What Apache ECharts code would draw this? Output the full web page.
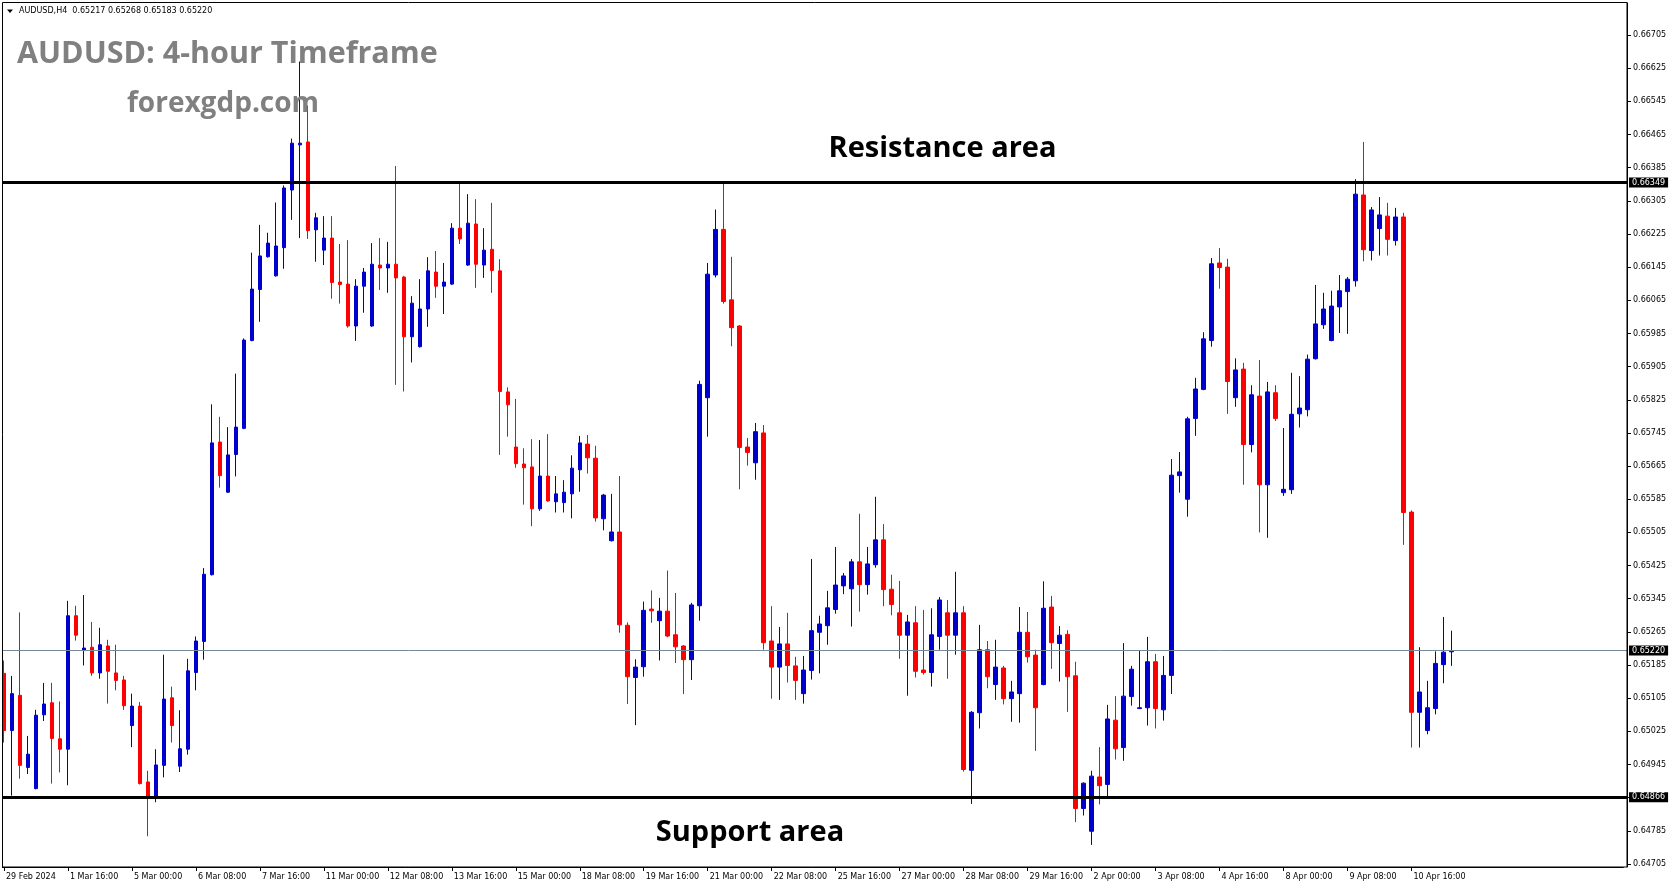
<!DOCTYPE html>
<html><head><meta charset="utf-8">
<script src="https://cdn.jsdelivr.net/npm/echarts@6/dist/echarts.min.js"></script>
<style>html,body{margin:0;padding:0;background:#fff;}#c{width:1673px;height:888px;}</style>
</head><body><div id="c"></div>
<script>
const tickLabels = ['29 Feb 2024','1 Mar 16:00','5 Mar 00:00','6 Mar 08:00','7 Mar 16:00','11 Mar 00:00','12 Mar 08:00','13 Mar 16:00','15 Mar 00:00','18 Mar 08:00','19 Mar 16:00','21 Mar 00:00','22 Mar 08:00','25 Mar 16:00','27 Mar 00:00','28 Mar 08:00','29 Mar 16:00','2 Apr 00:00','3 Apr 08:00','4 Apr 16:00','8 Apr 00:00','9 Apr 08:00','10 Apr 16:00'];
const yTicks = [0.66705,0.66625,0.66545,0.66465,0.66385,0.66305,0.66225,0.66145,0.66065,0.65985,0.65905,0.65825,0.65745,0.65665,0.65585,0.65505,0.65425,0.65345,0.65265,0.65185,0.65105,0.65025,0.64945,0.64865,0.64785,0.64705];
const opens = [0.65165,0.65027,0.65112,0.64938,0.64887,0.65065,0.65094,0.65007,0.64982,0.65304,
0.65220,0.65228,0.65166,0.65231,0.65166,0.65149,0.65039,0.65086,0.64903,0.64864,
0.64943,0.65106,0.64941,0.64982,0.65167,0.65242,0.65403,0.65723,0.65602,0.65693,
0.65756,0.65968,0.66091,0.66170,0.66124,0.66192,0.66331,0.66440,0.66447,0.66235,
0.66186,0.66215,0.66109,0.66104,0.66003,0.66099,0.66003,0.66150,0.66143,0.66152,
0.66121,0.65977,0.65953,0.66044,0.66133,0.66099,0.66104,0.66239,0.66150,0.66249,
0.66150,0.66188,0.66136,0.65844,0.65711,0.65670,0.65663,0.65562,0.65641,0.65579,
0.65577,0.65598,0.65656,0.65718,0.65684,0.65538,0.65485,0.65506,0.65281,0.65155,
0.65181,0.65320,0.65292,0.65315,0.65258,0.65231,0.65198,0.65328,0.65830,0.66126,
0.66236,0.66066,0.66003,0.65711,0.65673,0.65745,0.65243,0.65180,0.65236,0.65183,
0.65116,0.65172,0.65264,0.65280,0.65319,0.65376,0.65369,0.65434,0.65379,0.65427,
0.65487,0.65368,0.65311,0.65257,0.65287,0.65173,0.65167,0.65254,0.65311,0.65257,
0.65311,0.64931,0.65070,0.65222,0.65138,0.65178,0.65104,0.65116,0.65264,0.65209,
0.65138,0.65325,0.65237,0.65259,0.65159,0.64839,0.64784,0.64915,0.64897,0.65052,
0.64986,0.65109,0.65080,0.65082,0.65193,0.65077,0.65160,0.65642,0.65585,0.65780,
0.65850,0.65968,0.66155,0.66145,0.65830,0.65899,0.65717,0.65834,0.65620,0.65842,
0.65601,0.65608,0.65791,0.65801,0.65924,0.66006,0.65968,0.66049,0.66086,0.66112,
0.66319,0.66185,0.66238,0.66268,0.66209,0.66266,0.65554,0.65071,0.65027,0.65080,
0.65186,0.65217];
const highs = [0.65196,0.65159,0.65312,0.65014,0.65077,0.65142,0.65142,0.65097,0.65340,0.65328,
0.65354,0.65289,0.65275,0.65246,0.65234,0.65159,0.65116,0.65096,0.64930,0.64982,
0.65210,0.65133,0.65076,0.65200,0.65254,0.65419,0.65814,0.65784,0.65759,0.65888,
0.65973,0.66180,0.66247,0.66228,0.66301,0.66342,0.66455,0.66641,0.66535,0.66276,
0.66268,0.66268,0.66201,0.66210,0.66116,0.66143,0.66203,0.66215,0.66206,0.66389,
0.66124,0.66075,0.66116,0.66169,0.66184,0.66155,0.66251,0.66347,0.66321,0.66309,
0.66239,0.66300,0.66164,0.65855,0.65827,0.65708,0.65730,0.65728,0.65742,0.65641,
0.65631,0.65691,0.65738,0.65740,0.65714,0.65598,0.65598,0.65641,0.65288,0.65199,
0.65338,0.65365,0.65347,0.65413,0.65359,0.65233,0.65335,0.65871,0.66155,0.66284,
0.66350,0.66170,0.66005,0.65733,0.65769,0.65764,0.65327,0.65277,0.65311,0.65205,
0.65207,0.65441,0.65304,0.65364,0.65470,0.65407,0.65441,0.65550,0.65470,0.65591,
0.65525,0.65403,0.65388,0.65306,0.65327,0.65318,0.65322,0.65349,0.65342,0.65410,
0.65327,0.65074,0.65282,0.65243,0.65246,0.65183,0.65147,0.65325,0.65313,0.65222,
0.65387,0.65352,0.65279,0.65269,0.65193,0.64902,0.64930,0.64987,0.65089,0.65110,
0.65238,0.65183,0.65219,0.65253,0.65212,0.65207,0.65682,0.65699,0.65784,0.65878,
0.65988,0.66167,0.66191,0.66165,0.65925,0.65914,0.65860,0.65921,0.65868,0.65860,
0.65757,0.65890,0.65882,0.65934,0.66102,0.66083,0.66088,0.66126,0.66121,0.66357,
0.66447,0.66290,0.66314,0.66300,0.66288,0.66276,0.65558,0.65228,0.65147,0.65218,
0.65301,0.65268];
const lows = [0.64998,0.64870,0.64911,0.64922,0.64885,0.65050,0.64899,0.64926,0.64895,0.65244,
0.65184,0.65159,0.65152,0.65092,0.65124,0.65077,0.64987,0.64897,0.64772,0.64854,
0.64914,0.64998,0.64927,0.64969,0.65124,0.65198,0.65401,0.65613,0.65600,0.65640,
0.65754,0.65966,0.66013,0.66168,0.66122,0.66141,0.66259,0.66215,0.66213,0.66158,
0.66150,0.66069,0.66057,0.65999,0.65967,0.66035,0.66001,0.66090,0.66083,0.65861,
0.65845,0.65915,0.65951,0.66001,0.66071,0.66032,0.66102,0.66201,0.66148,0.66095,
0.66119,0.66083,0.65692,0.65736,0.65661,0.65572,0.65520,0.65557,0.65579,0.65553,
0.65553,0.65539,0.65603,0.65647,0.65531,0.65510,0.65483,0.65263,0.65091,0.65040,
0.65157,0.65287,0.65196,0.65252,0.65190,0.65115,0.65149,0.65292,0.65736,0.66120,
0.66057,0.65954,0.65609,0.65666,0.65632,0.65222,0.65104,0.65101,0.65143,0.65101,
0.65092,0.65150,0.65165,0.65234,0.65309,0.65356,0.65278,0.65314,0.65355,0.65420,
0.65327,0.65305,0.65200,0.65111,0.65155,0.65162,0.65133,0.65222,0.65152,0.65210,
0.64928,0.64850,0.65032,0.65129,0.65101,0.65090,0.65048,0.65046,0.65191,0.64978,
0.65136,0.65176,0.65145,0.65072,0.64806,0.64822,0.64751,0.64849,0.64863,0.64957,
0.64954,0.65087,0.65079,0.65039,0.65032,0.65051,0.65115,0.65601,0.65543,0.65738,
0.65848,0.65953,0.66093,0.65791,0.65808,0.65620,0.65698,0.65505,0.65492,0.65774,
0.65593,0.65598,0.65758,0.65785,0.65922,0.65996,0.65966,0.65986,0.65984,0.66098,
0.66159,0.66161,0.66173,0.66173,0.66197,0.65475,0.64986,0.64986,0.65018,0.65066,
0.65141,0.65183];
const closes = [0.65027,0.65116,0.64943,0.64970,0.65064,0.65091,0.65008,0.64982,0.65304,0.65257,
0.65226,0.65166,0.65234,0.65170,0.65148,0.65087,0.65086,0.64899,0.64864,0.64944,
0.65103,0.65039,0.64983,0.65171,0.65243,0.65404,0.65721,0.65642,0.65692,0.65759,
0.65969,0.66092,0.66172,0.66203,0.66196,0.66336,0.66444,0.66444,0.66233,0.66264,
0.66215,0.66108,0.66103,0.66003,0.66099,0.66133,0.66152,0.66143,0.66152,0.66119,
0.65977,0.66058,0.66044,0.66136,0.66099,0.66109,0.66239,0.66213,0.66251,0.66152,
0.66186,0.66137,0.65845,0.65813,0.65671,0.65661,0.65562,0.65641,0.65581,0.65598,
0.65602,0.65660,0.65721,0.65685,0.65540,0.65595,0.65506,0.65282,0.65157,0.65180,
0.65317,0.65316,0.65315,0.65255,0.65229,0.65198,0.65330,0.65862,0.66128,0.66236,
0.66062,0.65999,0.65710,0.65698,0.65748,0.65239,0.65180,0.65236,0.65184,0.65148,
0.65173,0.65268,0.65284,0.65323,0.65378,0.65400,0.65434,0.65379,0.65429,0.65487,
0.65367,0.65331,0.65257,0.65289,0.65170,0.65167,0.65258,0.65342,0.65257,0.65311,
0.64933,0.65071,0.65222,0.65157,0.65180,0.65104,0.65120,0.65264,0.65205,0.65082,
0.65322,0.65239,0.65257,0.65157,0.64839,0.64900,0.64917,0.64894,0.65055,0.64983,
0.65110,0.65175,0.65082,0.65193,0.65080,0.65160,0.65643,0.65651,0.65779,0.65851,
0.65972,0.66153,0.66144,0.65869,0.65897,0.65717,0.65837,0.65620,0.65844,0.65780,
0.65609,0.65790,0.65805,0.65923,0.66008,0.66044,0.66051,0.66088,0.66116,0.66321,
0.66187,0.66283,0.66271,0.66212,0.66266,0.65553,0.65071,0.65120,0.65082,0.65189,
0.65216,0.65220];
const resistance = 0.66349;
const support = 0.64866;
const lastPrice = 0.65220;
const headerText = 'AUDUSD,H4  0.65217 0.65268 0.65183 0.65220';
const titleText = 'AUDUSD: 4-hour Timeframe';
const siteText = 'forexgdp.com';
const resText = 'Resistance area';
const supText = 'Support area';

const totalSlots = 203;
const categories = [];
for (let i = 0; i < totalSlots; i++) {
  categories.push(i % 8 === 0 && i / 8 < tickLabels.length ? tickLabels[i / 8] : '');
}
const ohlc = opens.map((o, i) => [o, closes[i], lows[i], highs[i]]);
const showTick = (i) => i % 8 === 0 && i / 8 < tickLabels.length;

function lvl(v, color, width) {
  return [
    {x: 2, yAxis: v, lineStyle: {color: color, width: width, type: 'solid'},
     label: {show: true, position: 'end', formatter: v.toFixed(5), color: '#fff', backgroundColor: '#000',
             padding: [1, 3, 0, 3], fontSize: 8, fontFamily: 'DejaVu Sans', distance: 2, lineHeight: 9}},
    {x: 1627, yAxis: v}
  ];
}

const chart = echarts.init(document.getElementById('c'), null, {renderer: 'canvas'});
chart.setOption({
  animation: false,
  backgroundColor: '#fff',
  grid: {left: -0.7, right: 49.7, top: 3, bottom: 21, containLabel: false},
  xAxis: {
    type: 'category', data: categories, boundaryGap: true,
    axisLine: {show: true, lineStyle: {color: '#000', width: 1}},
    axisTick: {show: true, interval: showTick, alignWithLabel: true, length: 4, lineStyle: {color: '#000'}},
    axisLabel: {interval: showTick, align: 'left', padding: [0, 0, 0, 2], fontSize: 8, fontFamily: 'DejaVu Sans', color: '#000', margin: 6},
    splitLine: {show: false}
  },
  yAxis: {
    type: 'value', position: 'right', min: 0.646978, max: 0.667822, scale: true, offset: 3.7,
    axisLine: {show: true, lineStyle: {color: '#000', width: 1}},
    axisTick: {show: true, length: 4, customValues: yTicks, lineStyle: {color: '#000'}},
    axisLabel: {customValues: yTicks, formatter: (v) => v.toFixed(5), fontSize: 8, fontFamily: 'DejaVu Sans', color: '#000', margin: 6},
    splitLine: {show: false}
  },
  series: [{
    type: 'candlestick', data: ohlc, barWidth: 4,
    itemStyle: {color: '#0000CD', color0: '#FF0000', borderColor: '#0000CD', borderColor0: '#FF0000', borderWidth: 1},
    markLine: {
      symbol: 'none', silent: true, animation: false,
      data: [lvl(lastPrice, '#778899', 1), lvl(resistance, '#000', 3), lvl(support, '#000', 3)]
    }
  }],
  graphic: [
    {type: 'rect', silent: true, z: 100, shape: {x: 0, y: 0, width: 2, height: 888}, style: {fill: '#fff'}},
    {type: 'rect', silent: true, z: 101, shape: {x: 2.5, y: 2.5, width: 1624.5, height: 864.5}, style: {fill: 'none', stroke: '#000', lineWidth: 1}},
    {type: 'polygon', silent: true, z: 102, shape: {points: [[7, 9.5], [13, 9.5], [10, 13]]}, style: {fill: '#000'}},
    {type: 'text', silent: true, z: 102, x: 19, y: 11, style: {text: headerText, font: '8px "DejaVu Sans"', fill: '#000', verticalAlign: 'middle'}},
    {type: 'text', silent: true, z: 102, x: 17, y: 54, style: {text: titleText, font: 'bold 30.5px "Open Sans"', fill: '#808080', verticalAlign: 'middle'}},
    {type: 'text', silent: true, z: 102, x: 127, y: 104, style: {text: siteText, font: 'bold 28px "Open Sans"', fill: '#808080', verticalAlign: 'middle'}},
    {type: 'text', silent: true, z: 102, x: 942.5, y: 149, style: {text: resText, font: 'bold 29px "Open Sans"', fill: '#000', align: 'center', verticalAlign: 'middle'}},
    {type: 'text', silent: true, z: 102, x: 750, y: 833, style: {text: supText, font: 'bold 29px "Open Sans"', fill: '#000', align: 'center', verticalAlign: 'middle'}}
  ]
});
</script>
</body></html>
